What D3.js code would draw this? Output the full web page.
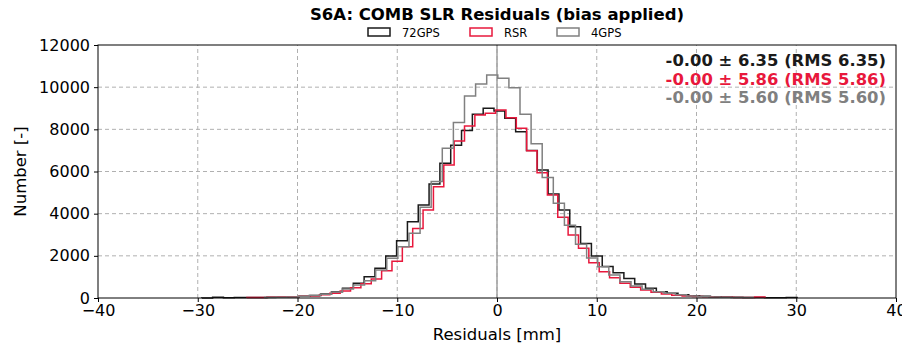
<!DOCTYPE html>
<html>
<head>
<meta charset="UTF-8">
<script src="https://d3js.org/d3.v7.min.js"></script>
<style>
  body { margin: 0; background: #fff; font-family: "DejaVu Sans", sans-serif; }
  .grid line { stroke: #b0b0b0; stroke-dasharray: 4,3; stroke-width: 1; }
  .axis text { font-size: 16px; fill: #000; font-family: "DejaVu Sans", sans-serif; }
  .axis path, .axis line { stroke: #000; }
</style>
</head>
<body>
<div id="chart"></div>
<script>
// histogram counts per series (each series has its own bin edges)
const series72Start = -29.595, series72Width = 1.085;
const series72Counts = [5, 30, 15, 20, 20, 25, 30, 40, 60, 80, 120, 190, 300, 460, 700,
  1010, 1410, 1990, 2720, 3620, 4410, 5410, 6390, 7250, 7940, 8710, 9000,
  8870, 8520, 7890, 7000, 6070, 4930, 4170, 3380, 2590, 1990, 1500, 1200, 930, 660,
  460, 300, 220, 150, 110, 80, 60, 45, 35, 25, 20, 15, 12, 25];

const seriesRsrStart = -25.07, seriesRsrWidth = 1.0387;
const seriesRsrCounts = [20, 25, 30, 45, 60, 80, 100, 150, 220, 330, 490, 680,
  900, 1290, 1740, 2430, 3300, 4170, 5280, 6310, 7450, 8160, 8680, 8760,
  8920, 8550, 8050, 6990, 5940, 4890, 3830, 2990, 2360, 1675, 1250, 960,
  700, 510, 380, 270, 190, 130, 100, 75, 55, 40, 30, 25, 20, 50];

const series4Start = -23.293, series4Width = 1.113;
const series4Counts = [20, 35, 50, 80, 120, 180, 280, 430, 620, 820, 1330, 1880, 2430,
  3070, 4300, 5520, 7100, 8330, 9580, 10150, 10580,
  10420, 9970, 8710, 7320, 5720, 4500, 3450, 2550, 1900, 1480, 1090, 775, 570,
  410, 300, 220, 150, 100, 70, 50, 35, 25, 20];

const seriesNames = ["72GPS", "RSR", "4GPS"];
const seriesColors = ["#1a1a1a", "#e8183c", "#808080"];
const statLines = ["-0.00 \u00b1 6.35 (RMS 6.35)", "-0.00 \u00b1 5.86 (RMS 5.86)", "-0.00 \u00b1 5.60 (RMS 5.60)"];
const xTicks = [-40, -30, -20, -10, 0, 10, 20, 30, 40];
const yTicks = [0, 2000, 4000, 6000, 8000, 10000, 12000];

const width = 902, height = 345;
const margin = { top: 45, right: 6, bottom: 47, left: 98 };

const svg = d3.select("#chart").append("svg")
  .attr("width", width).attr("height", height);

const x = d3.scaleLinear().domain([-40, 40]).range([margin.left, width - margin.right]);
const y = d3.scaleLinear().domain([0, 12000]).range([height - margin.bottom, margin.top]);

// grid
const grid = svg.append("g").attr("class", "grid");
grid.selectAll(".gx").data(xTicks.slice(1, -1)).join("line")
  .attr("x1", d => x(d)).attr("x2", d => x(d))
  .attr("y1", y(0)).attr("y2", y(12000));
grid.selectAll(".gy").data(yTicks.slice(1, -1)).join("line")
  .attr("x1", x(-40)).attr("x2", x(40))
  .attr("y1", d => y(d)).attr("y2", d => y(d));

// zero line
svg.append("line")
  .attr("x1", x(0)).attr("x2", x(0))
  .attr("y1", y(0)).attr("y2", y(12000))
  .attr("stroke", "#a0a0a0").attr("stroke-width", 1.5);

// step outlines
function stepPoints(start, w, counts) {
  const pts = [[start, 0]];
  counts.forEach((c, i) => {
    pts.push([start + i * w, c]);
    pts.push([start + (i + 1) * w, c]);
  });
  pts.push([start + counts.length * w, 0]);
  return pts;
}
const line = d3.line().x(d => x(d[0])).y(d => y(d[1]));
const hists = [
  stepPoints(series72Start, series72Width, series72Counts),
  stepPoints(seriesRsrStart, seriesRsrWidth, seriesRsrCounts),
  stepPoints(series4Start, series4Width, series4Counts)
];
svg.append("g").selectAll("path").data(hists).join("path")
  .attr("d", line)
  .attr("fill", "none")
  .attr("stroke", (d, i) => seriesColors[i])
  .attr("stroke-width", 1.5)
  .attr("stroke-linejoin", "miter");

// axes
svg.append("g").attr("class", "axis")
  .attr("transform", `translate(0,${y(0)})`)
  .call(d3.axisBottom(x).tickValues(xTicks).tickSize(4).tickPadding(3)
    .tickFormat(d => d < 0 ? "\u2212" + Math.abs(d) : d))
  .call(g => g.select(".domain").remove());
svg.append("g").attr("class", "axis")
  .attr("transform", `translate(${x(-40)},0)`)
  .call(d3.axisLeft(y).tickValues(yTicks).tickSize(4).tickPadding(4).tickFormat(d3.format("d")))
  .call(g => g.select(".domain").remove());

// frame
svg.append("rect")
  .attr("x", x(-40)).attr("y", y(12000))
  .attr("width", x(40) - x(-40)).attr("height", y(0) - y(12000))
  .attr("fill", "none").attr("stroke", "#000").attr("stroke-width", 1);

// labels
svg.append("text").attr("x", (x(-40) + x(40)) / 2).attr("y", 340)
  .attr("text-anchor", "middle").style("font-size", "16.5px").text("Residuals [mm]");
svg.append("text").attr("transform", `translate(26,${(y(0) + y(12000)) / 2}) rotate(-90)`)
  .attr("text-anchor", "middle").style("font-size", "16.5px").text("Number [-]");
svg.append("text").attr("x", (x(-40) + x(40)) / 2).attr("y", 20)
  .attr("text-anchor", "middle").style("font-size", "16.5px").style("font-weight", "bold")
  .text("S6A: COMB SLR Residuals (bias applied)");

// legend
const legX = [368, 470, 557];
const leg = svg.append("g").selectAll("g").data(seriesNames).join("g")
  .attr("transform", (d, i) => `translate(${legX[i]},28)`);
leg.append("rect").attr("width", 22).attr("height", 8)
  .attr("fill", "none").attr("stroke", (d, i) => seriesColors[i]).attr("stroke-width", 1.5);
leg.append("text").attr("x", 34).attr("y", 8.5).style("font-size", "11.5px").text(d => d);

// stats text
svg.append("g").selectAll("text").data(statLines).join("text")
  .attr("x", 886).attr("y", (d, i) => 66 + i * 18.5)
  .attr("text-anchor", "end")
  .style("font-size", "16.4px").style("font-weight", "bold")
  .attr("fill", (d, i) => seriesColors[i])
  .text(d => d);
</script>
</body>
</html>
